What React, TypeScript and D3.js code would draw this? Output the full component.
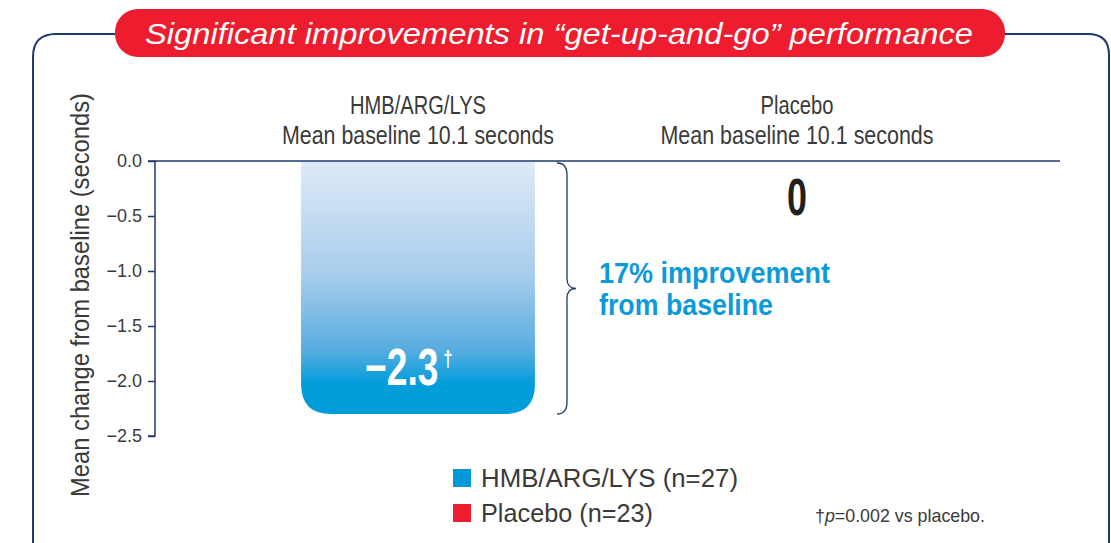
import * as d3 from "d3";
import { useEffect, useRef } from "react";

const groups = ["HMB/ARG/LYS", "Placebo"];
const baselineLabels = ["Mean baseline 10.1 seconds", "Mean baseline 10.1 seconds"];
const values = [-2.3, 0];
const valueLabels = ["\u22122.3", "0"];
const yTicks = [0, -0.5, -1.0, -1.5, -2.0, -2.5];
const legendItems = ["HMB/ARG/LYS (n=27)", "Placebo (n=23)"];
const legendColors = ["#0098d8", "#ed1c2e"];

const NAVY = "#1f3a6e";
const GREY = "#3a3a3a";
const SANS = "'Liberation Sans', Arial, sans-serif";

type Sel = d3.Selection<SVGSVGElement, unknown, null, undefined>;

// condensed look: Liberation Sans squeezed to the measured width
function addText(svg: Sel, txt: string, x: number, y: number, size: number, len: number,
                 opts: { anchor?: string; weight?: string; fill?: string; italic?: boolean } = {}) {
    return svg.append("text")
        .attr("x", x).attr("y", y)
        .attr("text-anchor", opts.anchor || "start")
        .attr("textLength", len)
        .attr("lengthAdjust", "spacingAndGlyphs")
        .style("font-family", SANS)
        .style("font-size", `${size}px`)
        .style("font-weight", opts.weight || "normal")
        .style("font-style", opts.italic ? "italic" : "normal")
        .style("fill", opts.fill || GREY)
        .text(txt);
}

export default function App() {
    const svgRef = useRef<SVGSVGElement | null>(null);

    useEffect(() => {
        if (!svgRef.current) return;
        const svg = d3.select(svgRef.current) as Sel;
        svg.selectAll("*").remove();

        const x = d3.scaleBand<string>()
            .domain(groups)
            .range([228.5, 986.5])
            .paddingInner(0.383)
            .paddingOuter(0.1915);

        const y = d3.scaleLinear().domain([0, -2.5]).range([161, 436]);

        // gradient for the active bar
        const defs = svg.append("defs");
        const grad = defs.append("linearGradient")
            .attr("id", "barGrad")
            .attr("x1", 0).attr("y1", 0).attr("x2", 0).attr("y2", 1);
        grad.append("stop").attr("offset", "0%").attr("stop-color", "#deeaf7");
        grad.append("stop").attr("offset", "45%").attr("stop-color", "#a8cdec");
        grad.append("stop").attr("offset", "75%").attr("stop-color", "#56ace0");
        grad.append("stop").attr("offset", "88%").attr("stop-color", "#009dda");
        grad.append("stop").attr("offset", "100%").attr("stop-color", "#009dda");

        // outer frame
        svg.append("path")
            .attr("d", "M118,34 L56,34 Q33,34 33,57 L33,560 M1003,34 L1088,34 Q1109,34 1109,55 L1109,560")
            .attr("fill", "none")
            .attr("stroke", NAVY)
            .attr("stroke-width", 2);

        // title pill
        svg.append("rect")
            .attr("x", 115).attr("y", 9)
            .attr("width", 890).attr("height", 48)
            .attr("rx", 23)
            .attr("fill", "#ed1c2e");
        addText(svg, "Significant improvements in \u201cget-up-and-go\u201d performance", 145, 44, 30, 828,
            { italic: true, fill: "#fff" });

        // bars
        const r = 30;
        groups.forEach((g, i) => {
            if (values[i] === 0) return;
            const x0 = x(g) || 0;
            const w = x.bandwidth();
            const top = y(0);
            const bot = y(values[i]);
            const p = d3.path();
            p.moveTo(x0, top);
            p.lineTo(x0 + w, top);
            p.lineTo(x0 + w, bot - r);
            p.quadraticCurveTo(x0 + w, bot, x0 + w - r, bot);
            p.lineTo(x0 + r, bot);
            p.quadraticCurveTo(x0, bot, x0, bot - r);
            p.closePath();
            svg.append("path").attr("d", p.toString()).attr("fill", "url(#barGrad)");
        });

        // y axis
        const axis = svg.append("g")
            .attr("transform", "translate(155,0)")
            .call(d3.axisLeft(y).tickValues(yTicks).tickSize(7).tickPadding(6)
                .tickFormat(d => d3.format(".1f")(d as number).replace("-", "\u2212")));
        axis.select(".domain").attr("stroke", NAVY).attr("stroke-width", 1.5).attr("d", "M-7,161H0V436H-7");
        axis.selectAll(".tick line").attr("stroke", NAVY).attr("stroke-width", 1.5);
        axis.selectAll(".tick text")
            .style("font-family", SANS)
            .style("font-size", "18px")
            .style("fill", GREY);

        // zero line
        svg.append("line")
            .attr("x1", 155).attr("x2", 1060)
            .attr("y1", y(0)).attr("y2", y(0))
            .attr("stroke", NAVY).attr("stroke-width", 1.5);

        // y axis title
        addText(svg, "Mean change from baseline (seconds)", 0, 0, 26, 404, { anchor: "middle" })
            .attr("transform", "translate(89,295) rotate(-90)");

        // group headers
        const headLens = [136, 73];
        const baseLens = [272, 273];
        groups.forEach((g, i) => {
            const cx = (x(g) || 0) + x.bandwidth() / 2;
            addText(svg, g, cx, 114, 25, headLens[i], { anchor: "middle" });
            addText(svg, baselineLabels[i], cx, 144, 25, baseLens[i], { anchor: "middle" });
        });

        // value label in the bar, squeezed with a transform
        const cx0 = (x(groups[0]) || 0) + x.bandwidth() / 2;
        const by = y(values[0]) - 29;
        svg.append("text")
            .attr("transform", `translate(${cx0 - 53},${by}) scale(0.73,1)`)
            .style("font-family", SANS)
            .style("font-size", "51px")
            .style("font-weight", "bold")
            .style("fill", "#fff")
            .text(valueLabels[0]);
        svg.append("text")
            .attr("transform", `translate(${cx0 + 25},${by - 19}) scale(0.8,1)`)
            .style("font-family", SANS)
            .style("font-size", "22px")
            .style("font-weight", "bold")
            .style("fill", "#fff")
            .text("\u2020");

        const cx1 = (x(groups[1]) || 0) + x.bandwidth() / 2;
        addText(svg, valueLabels[1], cx1, 215, 51, 20, { anchor: "middle", weight: "bold", fill: "#231f20" });

        // brace
        const bx = 567, bt = y(0) + 2, bb = y(values[0]), bm = (bt + bb) / 2;
        svg.append("path")
            .attr("d", `M${bx - 10},${bt} Q${bx},${bt} ${bx},${bt + 12} L${bx},${bm - 10} Q${bx},${bm} ${bx + 9},${bm}` +
                ` Q${bx},${bm} ${bx},${bm + 10} L${bx},${bb - 12} Q${bx},${bb} ${bx - 10},${bb}`)
            .attr("fill", "none")
            .attr("stroke", NAVY)
            .attr("stroke-width", 1.3);

        addText(svg, "17% improvement", 599, 283, 29, 231, { weight: "bold", fill: "#0d9ad8" });
        addText(svg, "from baseline", 599, 315, 29, 174, { weight: "bold", fill: "#0d9ad8" });

        // legend
        const legLens = [257, 172];
        legendItems.forEach((t, i) => {
            const ly = 469 + i * 35;
            svg.append("rect")
                .attr("x", 453).attr("y", ly)
                .attr("width", 18).attr("height", 18)
                .attr("fill", legendColors[i]);
            addText(svg, t, 481, ly + 18, 25, legLens[i]);
        });

        // footnote
        const fn = svg.append("text")
            .attr("x", 815).attr("y", 522)
            .attr("textLength", 170)
            .attr("lengthAdjust", "spacingAndGlyphs")
            .style("font-family", SANS)
            .style("font-size", "19px")
            .style("fill", GREY);
        fn.append("tspan").text("\u2020");
        fn.append("tspan").style("font-style", "italic").text("p");
        fn.append("tspan").text("=0.002 vs placebo.");
    }, []);

    return (
        <div style={{ position: "absolute", left: 0, top: 0, width: 1111, height: 543, overflow: "hidden", background: "#fff" }}>
            <svg ref={svgRef} width={1111} height={543} style={{ display: "block" }} />
        </div>
    );
}
